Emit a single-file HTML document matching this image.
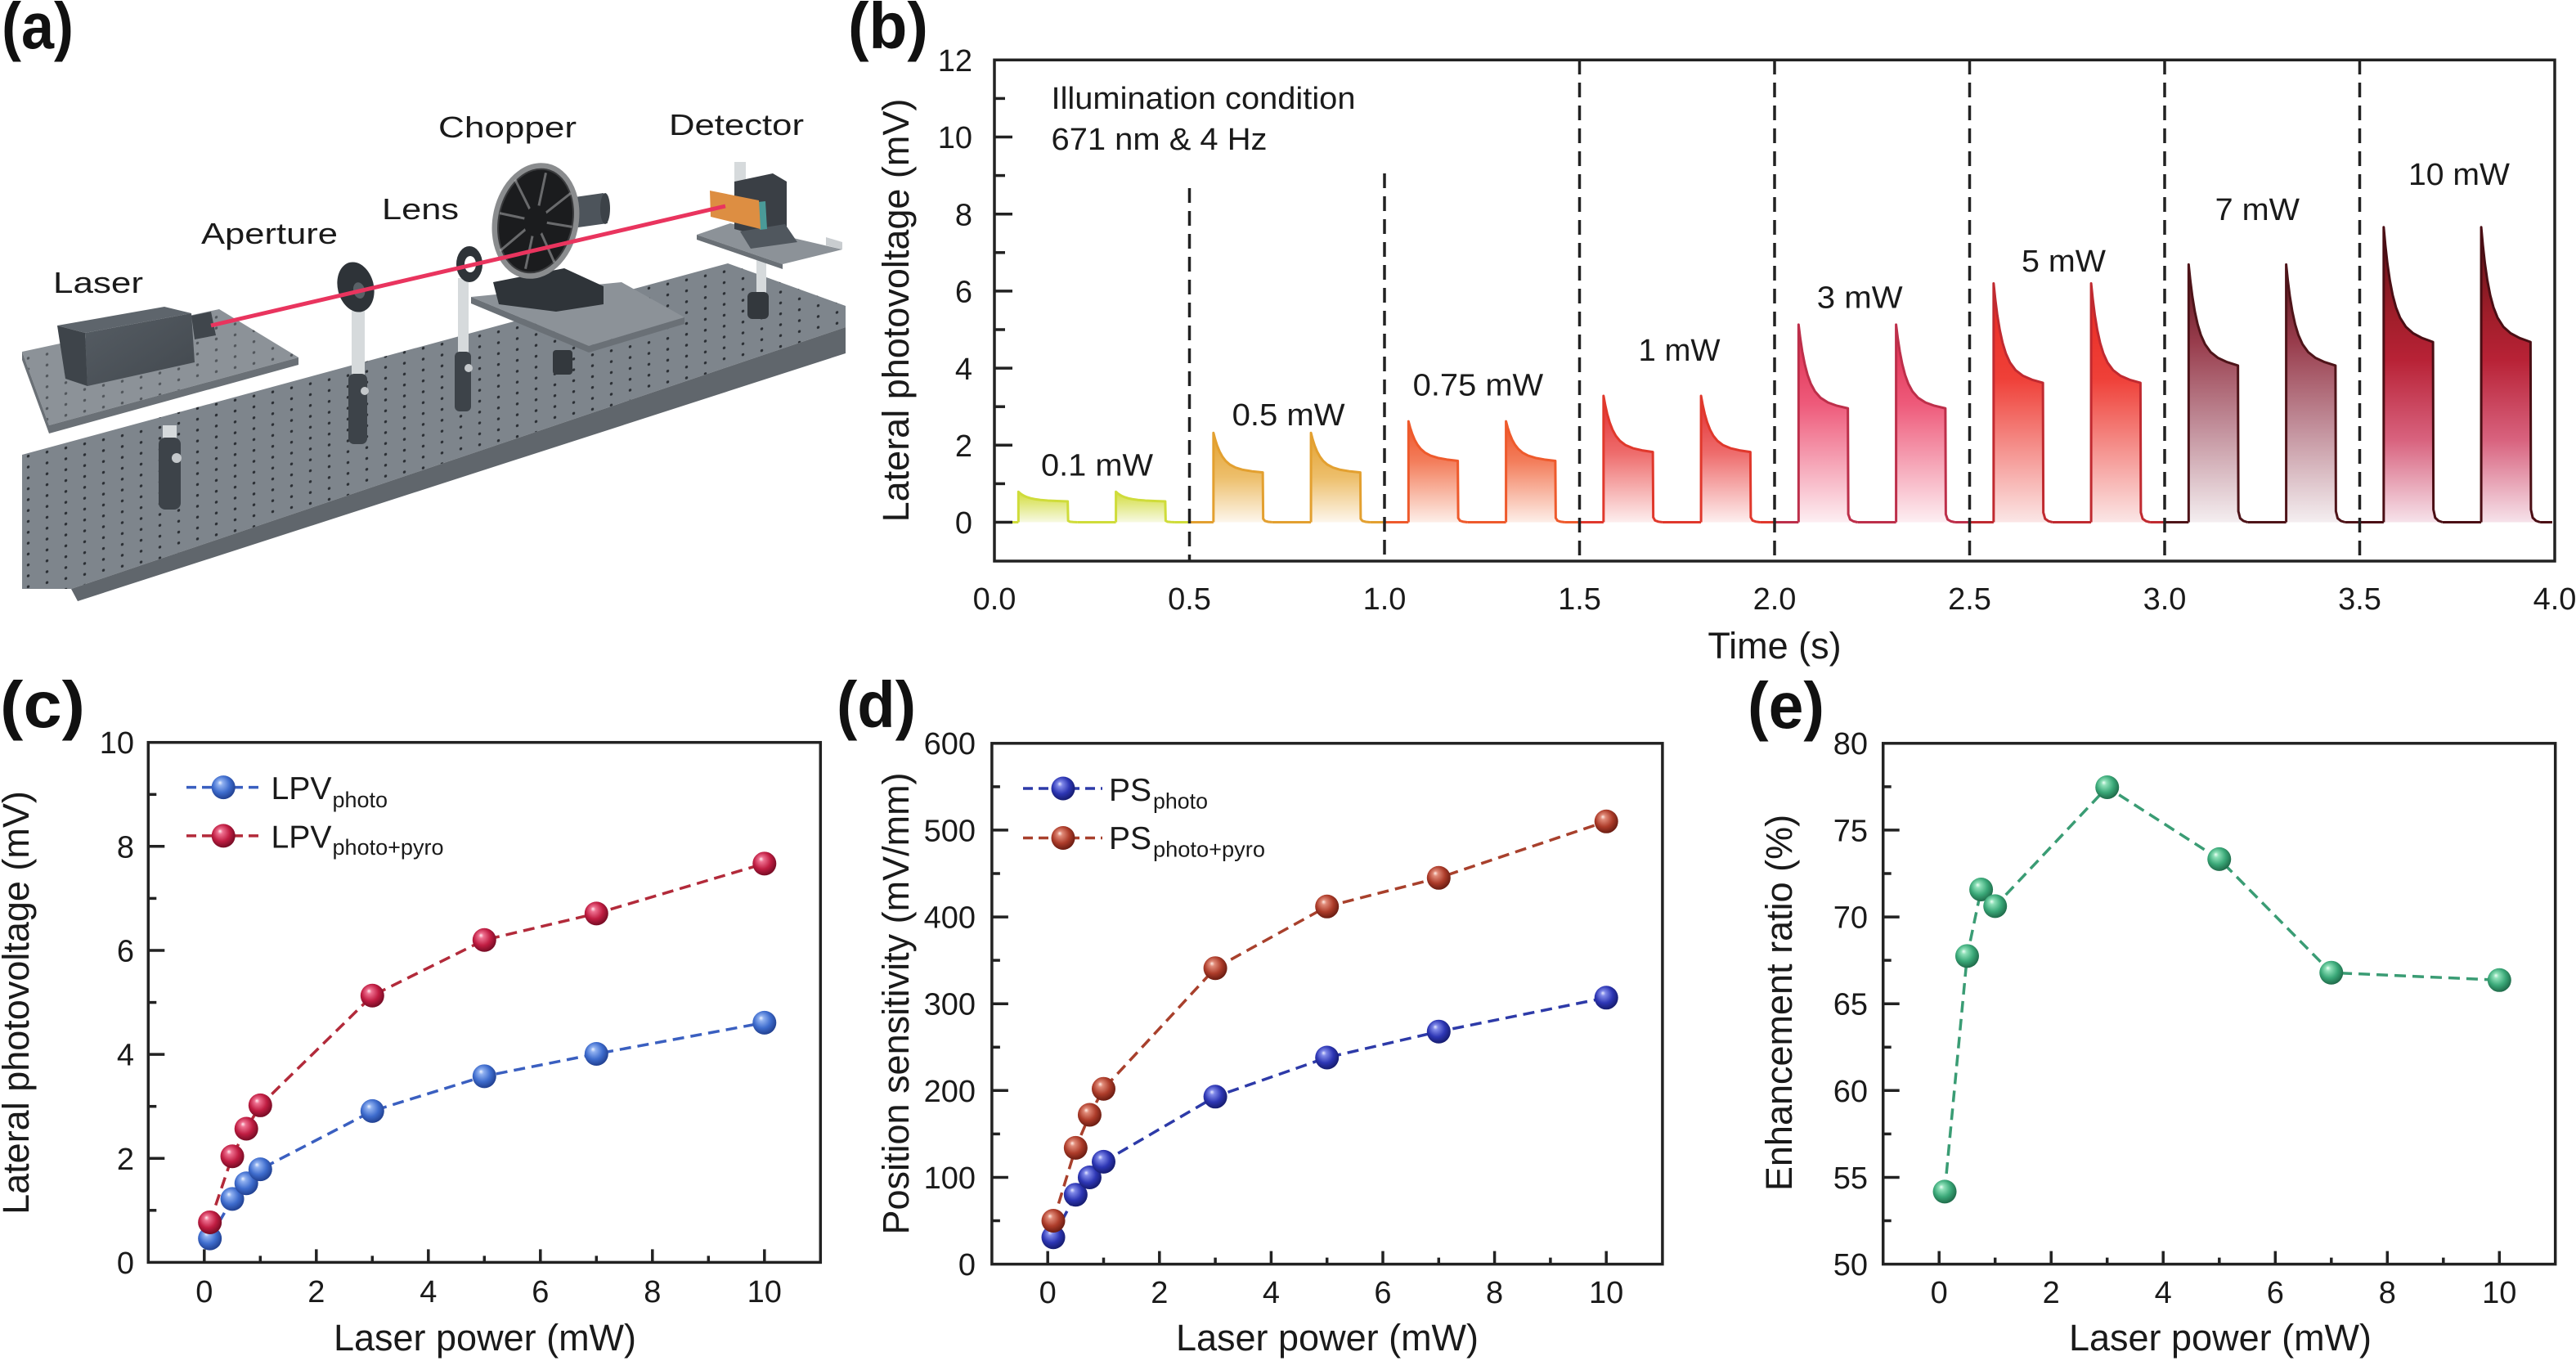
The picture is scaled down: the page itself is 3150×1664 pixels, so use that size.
<!DOCTYPE html>
<html><head><meta charset="utf-8"><style>
html,body{margin:0;padding:0;background:#fff;}
svg{display:block;}
text{font-family:"Liberation Sans",Arial,sans-serif;fill:#1a1a1a;}
.tk{font-size:38px;}
.ax{font-size:45px;}
.pl{font-size:80px;font-weight:bold;fill:#111;}
.an{font-size:38px;}
.la{font-size:36px;}
</style></head><body>
<svg width="3150" height="1664" viewBox="0 0 3150 1664" xmlns="http://www.w3.org/2000/svg">
<defs>
<pattern id="holes" width="23" height="13.3" patternUnits="userSpaceOnUse" patternTransform="skewY(-12.3)"><circle cx="11.5" cy="6.6" r="1.7" fill="#2a2e33"/></pattern>
<linearGradient id="boxf" x1="0" y1="0" x2="1" y2="1"><stop offset="0" stop-color="#565d64"/><stop offset="1" stop-color="#42484e"/></linearGradient>
<path id="p0" d="M0 638.5 L0 601.3 L2 603.05 L4.5 604.84 L7.5 606.52 L11 607.99 L15 609.2 L20 610.26 L27 611.2 L36 611.94 L47 612.5 L60.3 613.03 L60.8 636.72 L63 637.86 L67 638.3 L72 638.5"/>
<path id="p1" d="M0 638.5 L0 529.23 L2 536.96 L4.5 544.81 L7.5 552.12 L11 558.46 L15 563.63 L20 568 L27 571.73 L36 574.38 L47 576.19 L60.3 577.6 L60.8 634.25 L63 636.98 L67 638.01 L72 638.5"/>
<path id="p2" d="M0 638.5 L0 515.1 L2 522.67 L4.5 530.37 L7.5 537.55 L11 543.8 L15 548.92 L20 553.29 L27 557.06 L36 559.84 L47 561.83 L60.3 563.47 L60.8 633.26 L63 636.63 L67 637.9 L72 638.5"/>
<path id="p3" d="M0 638.5 L0 484.01 L2 494.97 L4.5 506.11 L7.5 516.47 L11 525.46 L15 532.79 L20 538.99 L27 544.27 L36 548.03 L47 550.59 L60.3 552.58 L60.8 632.5 L63 636.36 L67 637.81 L72 638.5"/>
<path id="p4" d="M0 638.5 L0 396.88 L2 413.13 L4.5 429.63 L7.5 445.01 L11 458.36 L15 469.27 L20 478.51 L27 486.45 L36 492.14 L47 496.1 L60.3 499.26 L60.8 628.77 L63 635.03 L67 637.39 L72 638.5"/>
<path id="p5" d="M0 638.5 L0 346.48 L2 365.72 L4.5 385.28 L7.5 403.51 L11 419.33 L15 432.29 L20 443.27 L27 452.71 L36 459.52 L47 464.29 L60.3 468.11 L60.8 626.6 L63 634.25 L67 637.14 L72 638.5"/>
<path id="p6" d="M0 638.5 L0 323.4 L2 342.74 L4.5 362.4 L7.5 380.74 L11 396.69 L15 409.77 L20 420.91 L27 430.57 L36 437.64 L47 442.72 L60.3 446.92 L60.8 625.11 L63 633.72 L67 636.97 L72 638.5"/>
<path id="p7" d="M0 638.5 L0 277.71 L2 299.67 L4.5 322.01 L7.5 342.83 L11 360.94 L15 375.81 L20 388.46 L27 399.45 L36 407.51 L47 413.32 L60.3 418.14 L60.8 623.1 L63 633 L67 636.74 L72 638.5"/>
<linearGradient id="g0" gradientUnits="userSpaceOnUse" x1="0" x2="0" y1="601" y2="638.5"><stop offset="0" stop-color="#d2dc3a"/><stop offset="1" stop-color="#f7f9e2"/></linearGradient>
<linearGradient id="g1" gradientUnits="userSpaceOnUse" x1="0" x2="0" y1="529" y2="638.5"><stop offset="0" stop-color="#e3a02e"/><stop offset="0.5" stop-color="#edbf6c"/><stop offset="1" stop-color="#fdf6ec"/></linearGradient>
<linearGradient id="g2" gradientUnits="userSpaceOnUse" x1="0" x2="0" y1="515" y2="638.5"><stop offset="0" stop-color="#ee5226"/><stop offset="0.4" stop-color="#f37e5c"/><stop offset="1" stop-color="#fdeee8"/></linearGradient>
<linearGradient id="g3" gradientUnits="userSpaceOnUse" x1="0" x2="0" y1="484" y2="638.5"><stop offset="0" stop-color="#e02a2c"/><stop offset="0.45" stop-color="#ee6c6c"/><stop offset="1" stop-color="#fdeeee"/></linearGradient>
<linearGradient id="g4" gradientUnits="userSpaceOnUse" x1="0" x2="0" y1="397" y2="638.5"><stop offset="0" stop-color="#dc2a4c"/><stop offset="0.4" stop-color="#ee5a7a"/><stop offset="1" stop-color="#fdeef2"/></linearGradient>
<linearGradient id="g5" gradientUnits="userSpaceOnUse" x1="0" x2="0" y1="346" y2="638.5"><stop offset="0" stop-color="#e82820"/><stop offset="0.4" stop-color="#ef4038"/><stop offset="1" stop-color="#fbe6e6"/></linearGradient>
<linearGradient id="g6" gradientUnits="userSpaceOnUse" x1="0" x2="0" y1="323" y2="638.5"><stop offset="0" stop-color="#561418"/><stop offset="0.3" stop-color="#983c4c"/><stop offset="0.62" stop-color="#c08c98"/><stop offset="1" stop-color="#f4eef0"/></linearGradient>
<linearGradient id="g7" gradientUnits="userSpaceOnUse" x1="0" x2="0" y1="278" y2="638.5"><stop offset="0" stop-color="#5c1216"/><stop offset="0.3" stop-color="#a01e2a"/><stop offset="0.45" stop-color="#b82236"/><stop offset="0.72" stop-color="#d8627e"/><stop offset="1" stop-color="#f6e2ea"/></linearGradient>
<radialGradient id="mb1" cx="0.45" cy="0.42" r="0.6" fx="0.35" fy="0.3"><stop offset="0" stop-color="#eef4ff"/><stop offset="0.18" stop-color="#8fb0f0"/><stop offset="0.6" stop-color="#3e6ccd"/><stop offset="1" stop-color="#1f3d8c"/></radialGradient>
<radialGradient id="mr1" cx="0.45" cy="0.42" r="0.6" fx="0.35" fy="0.3"><stop offset="0" stop-color="#ffeef2"/><stop offset="0.18" stop-color="#ee7090"/><stop offset="0.6" stop-color="#c01d42"/><stop offset="1" stop-color="#700a22"/></radialGradient>
<radialGradient id="mb2" cx="0.45" cy="0.42" r="0.6" fx="0.35" fy="0.3"><stop offset="0" stop-color="#e6e8ff"/><stop offset="0.18" stop-color="#7f88e8"/><stop offset="0.6" stop-color="#2d36b4"/><stop offset="1" stop-color="#141a6a"/></radialGradient>
<radialGradient id="mr2" cx="0.45" cy="0.42" r="0.6" fx="0.35" fy="0.3"><stop offset="0" stop-color="#ffeee6"/><stop offset="0.18" stop-color="#e08a78"/><stop offset="0.6" stop-color="#ad3c2a"/><stop offset="1" stop-color="#651a10"/></radialGradient>
<radialGradient id="mg" cx="0.45" cy="0.42" r="0.6" fx="0.35" fy="0.3"><stop offset="0" stop-color="#eefff6"/><stop offset="0.18" stop-color="#8ee0b8"/><stop offset="0.6" stop-color="#3aa878"/><stop offset="1" stop-color="#1d6646"/></radialGradient>
</defs>

<!-- ================= PANEL (a) ================= -->
<text class="pl" x="2" y="59" textLength="88" lengthAdjust="spacingAndGlyphs">(a)</text>
<polygon points="27,556 890,322 1034,374 1034,400 87,720 27,720" fill="#7e858c"/>
<polygon points="27,556 890,322 1034,374 1034,400 87,720 27,720" fill="url(#holes)"/>
<polygon points="1034,400 1034,432 95,735 87,720" fill="#60666c"/>
<polygon points="27,430 268,378 365,437 60,520" fill="#8c9298"/>
<polygon points="27,430 268,378 365,437 60,520" fill="url(#holes)" opacity="0.6"/>
<polygon points="27,430 60,520 60,530 27,440" fill="#6a7076"/>
<polygon points="60,520 365,437 365,446 60,530" fill="#6a7076"/>
<polygon points="70,398 201,375 234,383 104,407" fill="#5e656c"/>
<polygon points="104,407 234,383 238,443 107,472" fill="url(#boxf)"/>
<polygon points="70,398 104,407 107,472 80,463" fill="#3e444a"/>
<polygon points="234,386 258,381 264,410 238,415" fill="#40464c"/>
<rect x="199" y="520" width="17" height="20" fill="#d6dadc"/>
<rect x="194" y="535" width="27" height="88" rx="8" fill="#3d4349"/>
<circle cx="216" cy="560" r="6" fill="#c4c8cb"/>
<rect x="430" y="380" width="16" height="80" fill="#d6dadc"/>
<rect x="426" y="457" width="23" height="86" rx="7" fill="#3d4349"/>
<circle cx="446" cy="478" r="5" fill="#c4c8cb"/>
<rect x="560" y="340" width="13" height="92" fill="#d6dadc"/>
<rect x="556" y="430" width="20" height="73" rx="6" fill="#3d4349"/>
<circle cx="573" cy="450" r="5" fill="#c4c8cb"/>
<polygon points="576,363 760,345 837,388 720,423" fill="#8c9298"/>
<polygon points="576,363 720,423 720,431 576,371" fill="#6a7076"/>
<polygon points="720,423 837,388 837,396 720,431" fill="#6a7076"/>
<rect x="676" y="428" width="24" height="30" rx="4" fill="#33383d"/>
<rect x="925" y="318" width="12" height="42" fill="#d6dadc"/>
<rect x="914" y="357" width="26" height="33" rx="6" fill="#33383d"/>
<polygon points="852,287 893,273 1030,305 957,323" fill="#8c9298"/>
<polygon points="852,287 957,323 957,329 852,293" fill="#6a7076"/>
<rect x="898" y="198" width="14" height="24" fill="#d6dadc"/>
<polygon points="898,222 945,212 962,222 962,280 935,290 898,280" fill="#3a3f45"/>
<polygon points="905,283 960,274 975,296 918,304" fill="#50575e"/>
<polygon points="927,247 936,246 938,280 929,281" fill="#4a9a98"/>
<polygon points="868,233 928,245 930,280 869,265" fill="#dd8e42"/>
<polygon points="1010,290 1030,296 1030,305 1010,300" fill="#c9cdd0"/>
<polygon points="703,241 738,236 743,273 707,278" fill="#4d545b"/>
<ellipse cx="740" cy="255" rx="6" ry="19" fill="#3c4248"/>
<polygon points="603,345 690,328 738,350 738,372 680,381 610,372" fill="#2f3439"/>
<g transform="rotate(12 655 270)">
<ellipse cx="655" cy="270" rx="49" ry="68" fill="#1b1c1e" stroke="#8a8c8e" stroke-width="7"/>
<ellipse cx="655" cy="270" rx="45" ry="64" fill="none" stroke="#3a3b3d" stroke-width="2"/>
<g stroke="#c8cacc" stroke-width="3" opacity="0.45">
<line x1="655" y1="270" x2="655" y2="210"/><line x1="655" y1="270" x2="690" y2="228"/><line x1="655" y1="270" x2="700" y2="268"/><line x1="655" y1="270" x2="688" y2="315"/><line x1="655" y1="270" x2="655" y2="330"/><line x1="655" y1="270" x2="620" y2="315"/><line x1="655" y1="270" x2="610" y2="270"/><line x1="655" y1="270" x2="620" y2="226"/>
</g>
<ellipse cx="655" cy="270" rx="14" ry="19" fill="#1b1c1e"/>
</g>
<g transform="rotate(-14 435 351)"><ellipse cx="435" cy="351" rx="22" ry="31" fill="#2e3338"/><ellipse cx="438" cy="356" rx="7" ry="10" fill="#596066"/></g>
<ellipse cx="574" cy="323" rx="16" ry="22" fill="#2e3338"/><ellipse cx="575" cy="323" rx="7" ry="10" fill="#ffffff"/>
<line x1="258" y1="398" x2="887" y2="252" stroke="#e9345e" stroke-width="5"/>
<text class="la" x="65" y="358" textLength="110" lengthAdjust="spacingAndGlyphs">Laser</text>
<text class="la" x="246" y="298" textLength="167" lengthAdjust="spacingAndGlyphs">Aperture</text>
<text class="la" x="467" y="268" textLength="94" lengthAdjust="spacingAndGlyphs">Lens</text>
<text class="la" x="536" y="168" textLength="169" lengthAdjust="spacingAndGlyphs">Chopper</text>
<text class="la" x="818" y="165" textLength="165" lengthAdjust="spacingAndGlyphs">Detector</text>

<!-- ================= PANEL (b) ================= -->
<text class="pl" x="1037" y="59" textLength="98" lengthAdjust="spacingAndGlyphs">(b)</text>
<g stroke-width="3" stroke-linejoin="round" fill="none">
<path d="M1221 638.5H1245.34M1317.34 638.5H1364.59M1436.59 638.5H1454.5" stroke="#cfdc3a"/>
<use href="#p0" x="1245.34" fill="url(#g0)" stroke="#cfdc3a"/><use href="#p0" x="1364.59" fill="url(#g0)" stroke="#cfdc3a"/>
<path d="M1454.5 638.5H1483.84M1555.84 638.5H1603.09M1675.09 638.5H1693" stroke="#e3a030"/>
<use href="#p1" x="1483.84" fill="url(#g1)" stroke="#e3a030"/><use href="#p1" x="1603.09" fill="url(#g1)" stroke="#e3a030"/>
<path d="M1693 638.5H1722.34M1794.34 638.5H1841.59M1913.59 638.5H1931.5" stroke="#ee5a2c"/>
<use href="#p2" x="1722.34" fill="url(#g2)" stroke="#ee5a2c"/><use href="#p2" x="1841.59" fill="url(#g2)" stroke="#ee5a2c"/>
<path d="M1931.5 638.5H1960.84M2032.84 638.5H2080.09M2152.09 638.5H2170" stroke="#e0382c"/>
<use href="#p3" x="1960.84" fill="url(#g3)" stroke="#e0382c"/><use href="#p3" x="2080.09" fill="url(#g3)" stroke="#e0382c"/>
<path d="M2170 638.5H2199.34M2271.34 638.5H2318.59M2390.59 638.5H2408.5" stroke="#bd2f4a"/>
<use href="#p4" x="2199.34" fill="url(#g4)" stroke="#bd2f4a"/><use href="#p4" x="2318.59" fill="url(#g4)" stroke="#bd2f4a"/>
<path d="M2408.5 638.5H2437.84M2509.84 638.5H2557.09M2629.09 638.5H2647" stroke="#c02a30"/>
<use href="#p5" x="2437.84" fill="url(#g5)" stroke="#c02a30"/><use href="#p5" x="2557.09" fill="url(#g5)" stroke="#c02a30"/>
<path d="M2647 638.5H2676.34M2748.34 638.5H2795.59M2867.59 638.5H2885.5" stroke="#4e1419"/>
<use href="#p6" x="2676.34" fill="url(#g6)" stroke="#4e1419"/><use href="#p6" x="2795.59" fill="url(#g6)" stroke="#4e1419"/>
<path d="M2885.5 638.5H2914.84M2986.84 638.5H3034.09M3106.09 638.5H3121" stroke="#4a0e14"/>
<use href="#p7" x="2914.84" fill="url(#g7)" stroke="#4a0e14"/><use href="#p7" x="3034.09" fill="url(#g7)" stroke="#4a0e14"/>
</g>
<g stroke="#222" stroke-width="3.5" stroke-dasharray="18 10" fill="none">
<line x1="1454.5" y1="230" x2="1454.5" y2="686"/>
<line x1="1693" y1="212" x2="1693" y2="686"/>
<line x1="1931.5" y1="73" x2="1931.5" y2="686"/>
<line x1="2170" y1="73" x2="2170" y2="686"/>
<line x1="2408.5" y1="73" x2="2408.5" y2="686"/>
<line x1="2647" y1="73" x2="2647" y2="686"/>
<line x1="2885.5" y1="73" x2="2885.5" y2="686"/>
</g>
<rect x="1216" y="73.3" width="1908" height="612.7" fill="none" stroke="#222" stroke-width="3.5"/>
<g stroke="#222" stroke-width="3.5">
<line x1="1216" y1="638.5" x2="1238" y2="638.5"/><line x1="1216" y1="544.3" x2="1238" y2="544.3"/><line x1="1216" y1="450.1" x2="1238" y2="450.1"/><line x1="1216" y1="355.9" x2="1238" y2="355.9"/><line x1="1216" y1="261.7" x2="1238" y2="261.7"/><line x1="1216" y1="167.5" x2="1238" y2="167.5"/>
<line x1="1216" y1="591.4" x2="1229" y2="591.4"/><line x1="1216" y1="497.2" x2="1229" y2="497.2"/><line x1="1216" y1="403" x2="1229" y2="403"/><line x1="1216" y1="308.8" x2="1229" y2="308.8"/><line x1="1216" y1="214.6" x2="1229" y2="214.6"/><line x1="1216" y1="120.4" x2="1229" y2="120.4"/>
</g>
<g class="tk" text-anchor="end">
<text x="1189" y="652">0</text><text x="1189" y="558">2</text><text x="1189" y="464">4</text><text x="1189" y="369.5">6</text><text x="1189" y="275.5">8</text><text x="1189" y="181">10</text><text x="1189" y="87">12</text>
</g>
<g class="tk" text-anchor="middle">
<text x="1216" y="745">0.0</text><text x="1454.5" y="745">0.5</text><text x="1693" y="745">1.0</text><text x="1931.5" y="745">1.5</text><text x="2170" y="745">2.0</text><text x="2408.5" y="745">2.5</text><text x="2647" y="745">3.0</text><text x="2885.5" y="745">3.5</text><text x="3124" y="745">4.0</text>
</g>
<text class="ax" x="2170" y="805" text-anchor="middle">Time (s)</text>
<text class="ax" transform="translate(1111 379.5) rotate(-90)" text-anchor="middle">Lateral photovoltage (mV)</text>
<text class="an" x="1285.5" y="133" textLength="372" lengthAdjust="spacingAndGlyphs">Illumination condition</text>
<text class="an" x="1285.5" y="183" textLength="264" lengthAdjust="spacingAndGlyphs">671 nm &amp; 4 Hz</text>
<text class="an" x="1273" y="581.5" textLength="137" lengthAdjust="spacingAndGlyphs">0.1 mW</text>
<text class="an" x="1506.6" y="520" textLength="138" lengthAdjust="spacingAndGlyphs">0.5 mW</text>
<text class="an" x="1727.7" y="483.7" textLength="159.5" lengthAdjust="spacingAndGlyphs">0.75 mW</text>
<text class="an" x="2003.5" y="441" textLength="100" lengthAdjust="spacingAndGlyphs">1 mW</text>
<text class="an" x="2221.8" y="376.5" textLength="104.8" lengthAdjust="spacingAndGlyphs">3 mW</text>
<text class="an" x="2472" y="332" textLength="103" lengthAdjust="spacingAndGlyphs">5 mW</text>
<text class="an" x="2708.6" y="269" textLength="103.4" lengthAdjust="spacingAndGlyphs">7 mW</text>
<text class="an" x="2945" y="226" textLength="124" lengthAdjust="spacingAndGlyphs">10 mW</text>

<!-- ================= PANEL (c) ================= -->
<text class="pl" x="0" y="889" textLength="104" lengthAdjust="spacingAndGlyphs">(c)</text>
<rect x="181.3" y="907.7" width="822" height="635.7" fill="none" stroke="#222" stroke-width="3.5"/>
<g stroke="#222" stroke-width="3.5">
<line x1="181.3" y1="1416.3" x2="201.3" y2="1416.3"/><line x1="181.3" y1="1289.1" x2="201.3" y2="1289.1"/><line x1="181.3" y1="1162" x2="201.3" y2="1162"/><line x1="181.3" y1="1034.8" x2="201.3" y2="1034.8"/>
<line x1="181.3" y1="1479.8" x2="191.3" y2="1479.8"/><line x1="181.3" y1="1352.7" x2="191.3" y2="1352.7"/><line x1="181.3" y1="1225.6" x2="191.3" y2="1225.6"/><line x1="181.3" y1="1098.4" x2="191.3" y2="1098.4"/><line x1="181.3" y1="971.3" x2="191.3" y2="971.3"/>
<line x1="249.8" y1="1543.4" x2="249.8" y2="1527.4"/><line x1="386.8" y1="1543.4" x2="386.8" y2="1527.4"/><line x1="523.8" y1="1543.4" x2="523.8" y2="1527.4"/><line x1="660.8" y1="1543.4" x2="660.8" y2="1527.4"/><line x1="797.8" y1="1543.4" x2="797.8" y2="1527.4"/><line x1="934.8" y1="1543.4" x2="934.8" y2="1527.4"/>
<line x1="318.3" y1="1543.4" x2="318.3" y2="1535.4"/><line x1="455.3" y1="1543.4" x2="455.3" y2="1535.4"/><line x1="592.3" y1="1543.4" x2="592.3" y2="1535.4"/><line x1="729.3" y1="1543.4" x2="729.3" y2="1535.4"/><line x1="866.3" y1="1543.4" x2="866.3" y2="1535.4"/>
</g>
<g class="tk" text-anchor="end">
<text x="164" y="1557">0</text><text x="164" y="1430">2</text><text x="164" y="1302.5">4</text><text x="164" y="1175.5">6</text><text x="164" y="1048.5">8</text><text x="164" y="921">10</text>
</g>
<g class="tk" text-anchor="middle">
<text x="249.8" y="1592">0</text><text x="386.8" y="1592">2</text><text x="523.8" y="1592">4</text><text x="660.8" y="1592">6</text><text x="797.8" y="1592">8</text><text x="934.8" y="1592">10</text>
</g>
<text class="ax" x="593" y="1651" text-anchor="middle">Laser power (mW)</text>
<text class="ax" transform="translate(35 1226) rotate(-90)" text-anchor="middle">Lateral photovoltage (mV)</text>
<g fill="none" stroke-width="3.5" stroke-dasharray="14 8">
<polyline stroke="#3a5fc0" points="256.65,1514.16 284.05,1465.84 301.2,1446.77 318.3,1429.61 455.3,1358.41 592.3,1315.82 729.3,1288.5 934.8,1250.34"/>
<polyline stroke="#b22a3a" points="256.65,1494.45 284.05,1413.72 301.2,1380.03 318.3,1351.42 455.3,1217.29 592.3,1149.27 729.3,1116.85 934.8,1055.82"/>
<line x1="228" y1="962.6" x2="321" y2="962.6" stroke="#3a5fc0" stroke-dasharray="12 7"/>
<line x1="228" y1="1021.9" x2="321" y2="1021.9" stroke="#b22a3a" stroke-dasharray="12 7"/>
</g>
<g fill="url(#mb1)">
<circle cx="256.65" cy="1514.16" r="14.5"/><circle cx="284.05" cy="1465.84" r="14.5"/><circle cx="301.2" cy="1446.77" r="14.5"/><circle cx="318.3" cy="1429.61" r="14.5"/><circle cx="455.3" cy="1358.41" r="14.5"/><circle cx="592.3" cy="1315.82" r="14.5"/><circle cx="729.3" cy="1288.5" r="14.5"/><circle cx="934.8" cy="1250.34" r="14.5"/><circle cx="273.2" cy="962.6" r="14.5"/>
</g>
<g fill="url(#mr1)">
<circle cx="256.65" cy="1494.45" r="14.5"/><circle cx="284.05" cy="1413.72" r="14.5"/><circle cx="301.2" cy="1380.03" r="14.5"/><circle cx="318.3" cy="1351.42" r="14.5"/><circle cx="455.3" cy="1217.29" r="14.5"/><circle cx="592.3" cy="1149.27" r="14.5"/><circle cx="729.3" cy="1116.85" r="14.5"/><circle cx="934.8" cy="1055.82" r="14.5"/><circle cx="273.2" cy="1021.9" r="14.5"/>
</g>
<text x="331.5" y="977" style="font-size:39px" textLength="74" lengthAdjust="spacingAndGlyphs">LPV</text>
<text x="406.5" y="987" style="font-size:27px" textLength="67.5" lengthAdjust="spacingAndGlyphs">photo</text>
<text x="331.5" y="1036.4" style="font-size:39px" textLength="74" lengthAdjust="spacingAndGlyphs">LPV</text>
<text x="406.5" y="1045" style="font-size:27px" textLength="136" lengthAdjust="spacingAndGlyphs">photo+pyro</text>

<!-- ================= PANEL (d) ================= -->
<text class="pl" x="1023" y="889" textLength="97" lengthAdjust="spacingAndGlyphs">(d)</text>
<rect x="1212.9" y="908.8" width="820" height="636.8" fill="none" stroke="#222" stroke-width="3.5"/>
<g stroke="#222" stroke-width="3.5">
<line x1="1212.9" y1="1439.5" x2="1232.9" y2="1439.5"/><line x1="1212.9" y1="1333.3" x2="1232.9" y2="1333.3"/><line x1="1212.9" y1="1227.2" x2="1232.9" y2="1227.2"/><line x1="1212.9" y1="1121.1" x2="1232.9" y2="1121.1"/><line x1="1212.9" y1="1014.9" x2="1232.9" y2="1014.9"/>
<line x1="1212.9" y1="1492.5" x2="1222.9" y2="1492.5"/><line x1="1212.9" y1="1386.4" x2="1222.9" y2="1386.4"/><line x1="1212.9" y1="1280.3" x2="1222.9" y2="1280.3"/><line x1="1212.9" y1="1174.1" x2="1222.9" y2="1174.1"/><line x1="1212.9" y1="1068" x2="1222.9" y2="1068"/><line x1="1212.9" y1="961.9" x2="1222.9" y2="961.9"/>
<line x1="1281.2" y1="1545.6" x2="1281.2" y2="1529.6"/><line x1="1417.8" y1="1545.6" x2="1417.8" y2="1529.6"/><line x1="1554.4" y1="1545.6" x2="1554.4" y2="1529.6"/><line x1="1691" y1="1545.6" x2="1691" y2="1529.6"/><line x1="1827.6" y1="1545.6" x2="1827.6" y2="1529.6"/><line x1="1964.2" y1="1545.6" x2="1964.2" y2="1529.6"/>
<line x1="1349.5" y1="1545.6" x2="1349.5" y2="1537.6"/><line x1="1486.1" y1="1545.6" x2="1486.1" y2="1537.6"/><line x1="1622.7" y1="1545.6" x2="1622.7" y2="1537.6"/><line x1="1759.3" y1="1545.6" x2="1759.3" y2="1537.6"/><line x1="1895.9" y1="1545.6" x2="1895.9" y2="1537.6"/>
</g>
<g class="tk" text-anchor="end">
<text x="1193" y="1559">0</text><text x="1193" y="1453">100</text><text x="1193" y="1347">200</text><text x="1193" y="1240.5">300</text><text x="1193" y="1134.5">400</text><text x="1193" y="1028.5">500</text><text x="1193" y="922">600</text>
</g>
<g class="tk" text-anchor="middle">
<text x="1281.2" y="1593">0</text><text x="1417.8" y="1593">2</text><text x="1554.4" y="1593">4</text><text x="1691" y="1593">6</text><text x="1827.6" y="1593">8</text><text x="1964.2" y="1593">10</text>
</g>
<text class="ax" x="1623" y="1651" text-anchor="middle">Laser power (mW)</text>
<text class="ax" transform="translate(1111 1227) rotate(-90)" text-anchor="middle">Position sensitivity (mV/mm)</text>
<g fill="none" stroke-width="3.5" stroke-dasharray="14 8">
<polyline stroke="#2d3aa8" points="1288.03,1512.7 1315.35,1460.7 1332.43,1439.5 1349.5,1420.4 1486.1,1340.8 1622.7,1293 1759.3,1261.2 1964.2,1219.8"/>
<polyline stroke="#a8402c" points="1288.03,1492.5 1315.35,1403.4 1332.43,1363 1349.5,1331.2 1486.1,1183.7 1622.7,1108.3 1759.3,1073.3 1964.2,1004.3"/>
<line x1="1251" y1="964" x2="1348" y2="964" stroke="#2d3aa8" stroke-dasharray="12 7"/>
<line x1="1251" y1="1024.5" x2="1348" y2="1024.5" stroke="#a8402c" stroke-dasharray="12 7"/>
</g>
<g fill="url(#mb2)">
<circle cx="1288.03" cy="1512.7" r="14.5"/><circle cx="1315.35" cy="1460.7" r="14.5"/><circle cx="1332.43" cy="1439.5" r="14.5"/><circle cx="1349.5" cy="1420.4" r="14.5"/><circle cx="1486.1" cy="1340.8" r="14.5"/><circle cx="1622.7" cy="1293" r="14.5"/><circle cx="1759.3" cy="1261.2" r="14.5"/><circle cx="1964.2" cy="1219.8" r="14.5"/><circle cx="1300" cy="964" r="14.5"/>
</g>
<g fill="url(#mr2)">
<circle cx="1288.03" cy="1492.5" r="14.5"/><circle cx="1315.35" cy="1403.4" r="14.5"/><circle cx="1332.43" cy="1363" r="14.5"/><circle cx="1349.5" cy="1331.2" r="14.5"/><circle cx="1486.1" cy="1183.7" r="14.5"/><circle cx="1622.7" cy="1108.3" r="14.5"/><circle cx="1759.3" cy="1073.3" r="14.5"/><circle cx="1964.2" cy="1004.3" r="14.5"/><circle cx="1300" cy="1024.5" r="14.5"/>
</g>
<text x="1356" y="978.8" style="font-size:39px" textLength="52" lengthAdjust="spacingAndGlyphs">PS</text>
<text x="1410" y="988.5" style="font-size:27px" textLength="67" lengthAdjust="spacingAndGlyphs">photo</text>
<text x="1356" y="1038" style="font-size:39px" textLength="52" lengthAdjust="spacingAndGlyphs">PS</text>
<text x="1410" y="1047.7" style="font-size:27px" textLength="137" lengthAdjust="spacingAndGlyphs">photo+pyro</text>

<!-- ================= PANEL (e) ================= -->
<text class="pl" x="2137" y="890" textLength="94" lengthAdjust="spacingAndGlyphs">(e)</text>
<rect x="2302.7" y="908.8" width="822" height="636.8" fill="none" stroke="#222" stroke-width="3.5"/>
<g stroke="#222" stroke-width="3.5">
<line x1="2302.7" y1="1439.5" x2="2322.7" y2="1439.5"/><line x1="2302.7" y1="1333.3" x2="2322.7" y2="1333.3"/><line x1="2302.7" y1="1227.2" x2="2322.7" y2="1227.2"/><line x1="2302.7" y1="1121.1" x2="2322.7" y2="1121.1"/><line x1="2302.7" y1="1014.9" x2="2322.7" y2="1014.9"/>
<line x1="2302.7" y1="1492.5" x2="2312.7" y2="1492.5"/><line x1="2302.7" y1="1386.4" x2="2312.7" y2="1386.4"/><line x1="2302.7" y1="1280.3" x2="2312.7" y2="1280.3"/><line x1="2302.7" y1="1174.1" x2="2312.7" y2="1174.1"/><line x1="2302.7" y1="1068" x2="2312.7" y2="1068"/><line x1="2302.7" y1="961.9" x2="2312.7" y2="961.9"/>
<line x1="2371.2" y1="1545.6" x2="2371.2" y2="1529.6"/><line x1="2508.2" y1="1545.6" x2="2508.2" y2="1529.6"/><line x1="2645.2" y1="1545.6" x2="2645.2" y2="1529.6"/><line x1="2782.3" y1="1545.6" x2="2782.3" y2="1529.6"/><line x1="2919.3" y1="1545.6" x2="2919.3" y2="1529.6"/><line x1="3056.3" y1="1545.6" x2="3056.3" y2="1529.6"/>
<line x1="2439.7" y1="1545.6" x2="2439.7" y2="1537.6"/><line x1="2576.7" y1="1545.6" x2="2576.7" y2="1537.6"/><line x1="2713.8" y1="1545.6" x2="2713.8" y2="1537.6"/><line x1="2850.8" y1="1545.6" x2="2850.8" y2="1537.6"/><line x1="2987.8" y1="1545.6" x2="2987.8" y2="1537.6"/>
</g>
<g class="tk" text-anchor="end">
<text x="2284" y="1559">50</text><text x="2284" y="1453">55</text><text x="2284" y="1347">60</text><text x="2284" y="1240.5">65</text><text x="2284" y="1134.5">70</text><text x="2284" y="1028.5">75</text><text x="2284" y="922">80</text>
</g>
<g class="tk" text-anchor="middle">
<text x="2371.2" y="1593">0</text><text x="2508.2" y="1593">2</text><text x="2645.2" y="1593">4</text><text x="2782.3" y="1593">6</text><text x="2919.3" y="1593">8</text><text x="3056.3" y="1593">10</text>
</g>
<text class="ax" x="2715" y="1651" text-anchor="middle">Laser power (mW)</text>
<text class="ax" transform="translate(2191 1226) rotate(-90)" text-anchor="middle">Enhancement ratio (%)</text>
<polyline fill="none" stroke="#3a9c74" stroke-width="3.5" stroke-dasharray="14 8" points="2378.05,1456.87 2405.46,1168.83 2422.58,1087.53 2439.71,1107.9 2576.73,962.5 2713.75,1050.4 2850.77,1189.2 3056.3,1198.3"/>
<g fill="url(#mg)">
<circle cx="2378.05" cy="1456.87" r="14.5"/><circle cx="2405.46" cy="1168.83" r="14.5"/><circle cx="2422.58" cy="1087.53" r="14.5"/><circle cx="2439.71" cy="1107.9" r="14.5"/><circle cx="2576.73" cy="962.5" r="14.5"/><circle cx="2713.75" cy="1050.4" r="14.5"/><circle cx="2850.77" cy="1189.2" r="14.5"/><circle cx="3056.3" cy="1198.3" r="14.5"/>
</g>
</svg>
</body></html>
